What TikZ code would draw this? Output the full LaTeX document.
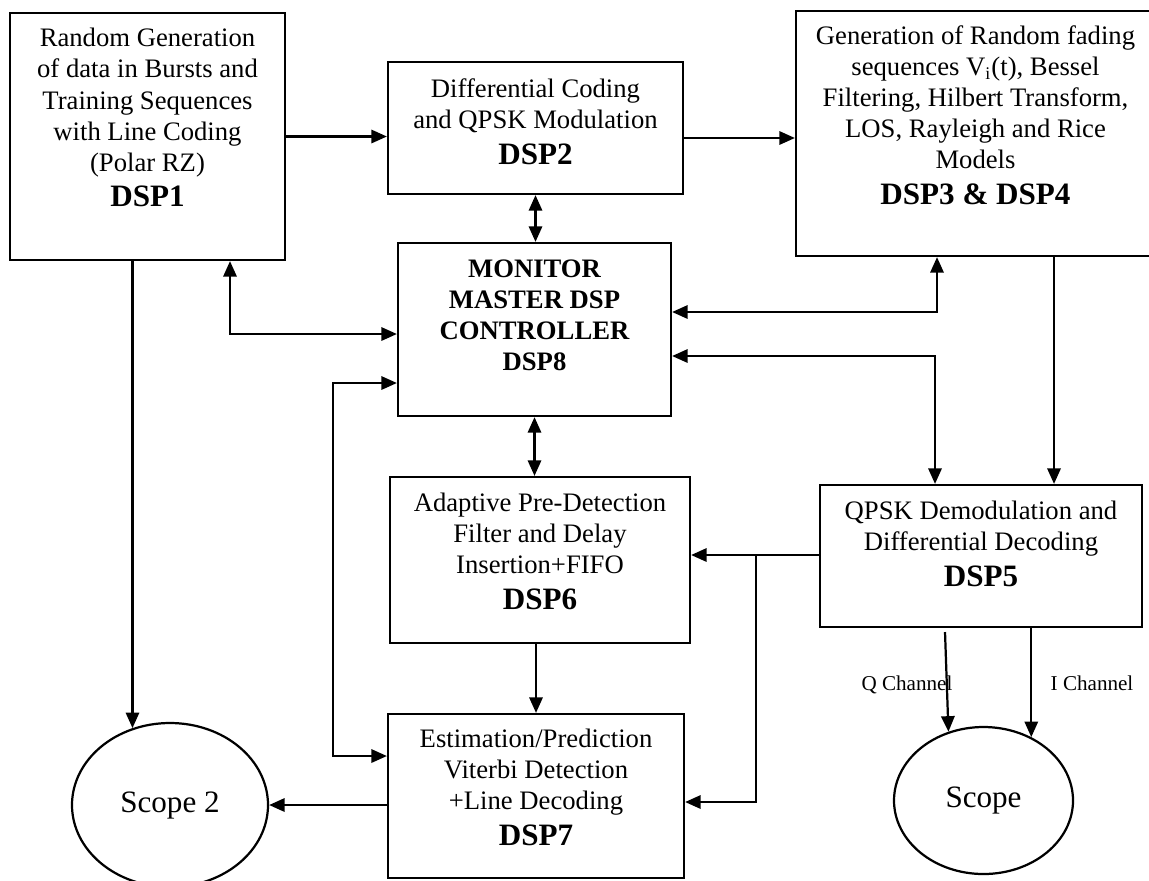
\documentclass[tikz,border=0pt]{standalone}
\usepackage{fontspec}
\setmainfont{Liberation Serif}
\usepackage{tikz}
\usetikzlibrary{arrows.meta, shapes.geometric}

\newcommand{\dsplabel}[1]{{\fontsize{14}{16}\selectfont\bfseries #1}}
\newcommand{\padline}[1]{\\[#1]\mbox{}}

\begin{document}
\begin{tikzpicture} [
        x = 0.45pt, y = -0.45pt,
        every node/.style = { font = \fontsize{12}{14}\selectfont },
        dspbox/.style = { draw, line width = 1pt, align = center, inner sep = 1pt },
        scopebox/.style = { draw, ellipse, line width = 1pt, inner sep = 0, font = \fontsize{14}{16}\selectfont },
        chan/.style = { font = \fontsize{9.5}{11}\selectfont },
        arr/.style = { line width = 1pt, -{Triangle[length = 7pt, width = 6pt]} },
        dblarr/.style = { line width = 1pt, {Triangle[length = 7pt, width = 6pt]}-{Triangle[length = 7pt, width = 6pt]} }
        ]
        \useasboundingbox (0,0) rectangle (1149,880);

        % blocks
        \node [dspbox, minimum width = 123.75pt, minimum height = 111.15pt] (dspone) at (147.5,136.5)
        {Random Generation\\ of data in Bursts and\\ Training Sequences\\ with Line Coding\\ (Polar RZ)\\[2pt] \dsplabel{DSP1}\padline{3pt}};
        \node [dspbox, minimum width = 132.75pt, minimum height = 59.4pt] (dsptwo) at (535.5,128)
        {Differential Coding\\ and QPSK Modulation\\[2pt] \dsplabel{DSP2}\padline{-8pt}};
        \node [dspbox, minimum width = 161.55pt, minimum height = 110.25pt] (dspthree) at (975.5,133.5)
        {Generation of Random fading\\ sequences V\textsubscript{i}(t), Bessel\\ Filtering, Hilbert Transform,\\ LOS, Rayleigh and Rice\\ Models\\[2pt] \dsplabel{DSP3 \& DSP4}\padline{3pt}};
        \node [dspbox, minimum width = 122.85pt, minimum height = 77.85pt, font = \fontsize{12}{14}\selectfont\bfseries] (dspeight) at (534.5,329.5)
        {MONITOR\\ MASTER DSP\\ CONTROLLER\\ DSP8\padline{-1pt}};
        \node [dspbox, minimum width = 135pt, minimum height = 74.7pt] (dspsix) at (540,560)
        {Adaptive Pre-Detection\\ Filter and Delay\\ Insertion+FIFO\\[2pt] \dsplabel{DSP6}\padline{-6pt}};
        \node [dspbox, minimum width = 144.9pt, minimum height = 63.9pt] (dspfive) at (981,556)
        {QPSK Demodulation and\\ Differential Decoding\\[2pt] \dsplabel{DSP5}\padline{-3pt}};
        \node [dspbox, minimum width = 133.2pt, minimum height = 73.8pt] (dspseven) at (536,796)
        {Estimation/Prediction\\ Viterbi Detection\\ +Line Decoding\\[2pt] \dsplabel{DSP7}\padline{-6pt}};
        \node [scopebox, minimum width = 88.2pt, minimum height = 73.8pt] (scopetwo) at (170,805) {Scope 2};
        \node [scopebox, minimum width = 80.55pt, minimum height = 66.15pt] (scope) at (983.5,800.5) {Scope};

        % bends of the connectors
        \coordinate (twoout) at (683,138);
        \coordinate (threein) at (937,312);
        \coordinate (fivein) at (935,356);
        \coordinate (threeout) at (1054,256);
        \coordinate (fivetap) at (756,555);
        \coordinate (sevenin) at (756,802);
        \coordinate (onein) at (230,334);
        \coordinate (looptop) at (333,383);
        \coordinate (loopbot) at (333,756);
        \coordinate (qout) at (945,632);

        % connectors
        \draw [arr] (dspone.east) -- (dspone.east -| dsptwo.west);
        \draw [arr] (twoout) -- (twoout -| dspthree.west);
        \draw [dblarr] (dsptwo.south) -- (dsptwo.south |- dspeight.north);
        \draw [dblarr] (threein |- dspthree.south) -- (threein) -- (threein -| dspeight.east);
        \draw [dblarr] (fivein -| dspeight.east) -- (fivein) -- (fivein |- dspfive.north);
        \draw [arr] (threeout) -- (threeout |- dspfive.north);
        \draw [arr] (fivetap -| dspfive.west) -- (fivetap -| dspsix.east);
        \draw [arr] (fivetap) -- (sevenin) -- (sevenin -| dspseven.east);
        \draw [dblarr] (dspeight.south) -- (dspeight.south |- dspsix.north);
        \draw [arr] (dspseven.north |- dspsix.south) -- (dspseven.north);
        \draw [arr] (dspseven.west |- scopetwo.east) -- (scopetwo.east);
        \draw [arr] (scopetwo.116 |- dspone.south) -- (scopetwo.116);
        \draw [dblarr] (onein |- dspone.south) -- (onein) -- (onein -| dspeight.west);
        \draw [dblarr] (looptop -| dspeight.west) -- (looptop) -- (loopbot) -- (loopbot -| dspseven.west);
        \draw [arr] (qout) -- (scope.117);
        \draw [arr] (scope.53 |- dspfive.south) -- (scope.53);

        % channel labels
        \node [chan] (qlabel) at (907,685) {Q Channel};
        \node [chan] (ilabel) at (1092,683) {I Channel};
    \end{tikzpicture}
\end{document}
